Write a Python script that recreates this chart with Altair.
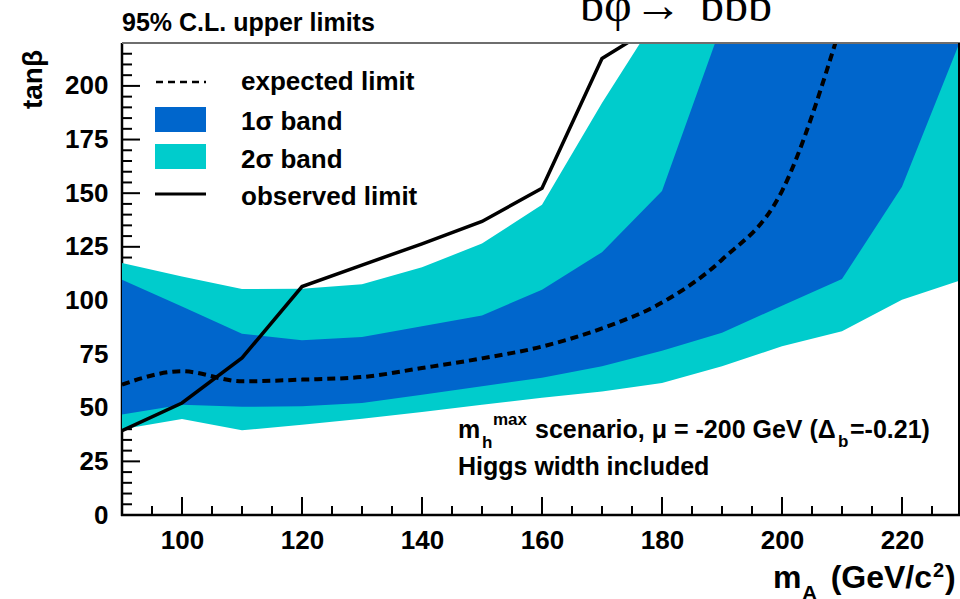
import altair as alt
import pandas as pd

# ---- data: tanβ exclusion limits vs m_A (GeV/c^2) ----
mass = [90, 100, 110, 120, 130, 140, 150, 160, 170, 180, 190, 200, 210, 220, 230]

# 2σ band (lower / upper edge)
band2_lo = [40.0, 44.8, 39.5, 42.1, 44.9, 48.0, 51.4, 54.6, 57.6, 61.5, 69.3, 78.6, 85.6, 100.3, 109.6]
band2_hi = [117.4, 111.2, 105.3, 105.5, 107.5, 115.5, 126.5, 144.6, 192.0, 236.0, 250.0, 250.0, 250.0, 250.0, 250.0]

# 1σ band (lower / upper edge)
band1_lo = [46.8, 51.4, 50.4, 50.7, 52.2, 56.0, 60.0, 64.0, 69.3, 76.5, 85.0, 97.5, 110.0, 153.0, 223.0]
band1_hi = [109.6, 97.2, 84.5, 81.4, 83.0, 88.0, 93.0, 105.0, 122.5, 151.0, 229.0, 250.0, 250.0, 250.0, 250.0]

# expected limit (90 ... 210)
expected = [60.8, 67.0, 62.3, 63.1, 64.3, 68.5, 73.0, 78.5, 87.0, 99.0, 119.0, 151.0, 230.0]

# observed limit (90 ... 180)
observed = [39.3, 52.2, 73.2, 106.5, 116.5, 126.4, 136.8, 152.3, 212.8, 230.0]

x_label_values = [100, 120, 140, 160, 180, 200, 220]
y_label_values = [0, 25, 50, 75, 100, 125, 150, 175, 200]
x_minor_ticks = [v for v in range(95, 230, 5) if v not in x_label_values]
y_minor_ticks = [v for v in range(5, 221, 5) if v not in y_label_values]

# ---- layout ----
W, H = 838, 472
SANS = "Liberation Sans"
SERIF = "Liberation Serif"
BLUE = "#0066cc"
CYAN = "#00cccc"

bands = pd.DataFrame({"mass": mass, "lo2": band2_lo, "hi2": band2_hi,
                      "lo1": band1_lo, "hi1": band1_hi})
exp_df = pd.DataFrame({"mass": mass[:len(expected)], "limit": expected})
obs_df = pd.DataFrame({"mass": mass[:len(observed)], "limit": observed})

x_scale = alt.Scale(domain=[90, 229.67], nice=False, zero=False)
y_scale = alt.Scale(domain=[0, 220], nice=False, zero=False)

axis_common = dict(title=None, ticks=False, tickSize=0, domain=False, grid=False,
                   labelFont=SANS, labelFontSize=26, labelFontWeight="bold",
                   labelColor="black", labelOverlap=False, labelFlush=False)
x_axis = alt.Axis(values=x_label_values, labelPadding=12, **axis_common)
y_axis = alt.Axis(values=y_label_values, labelPadding=14, **axis_common)


def X(field):
    return alt.X(field, type="quantitative", scale=x_scale, axis=x_axis)


def Y(field):
    return alt.Y(field, type="quantitative", scale=y_scale, axis=y_axis)


one = alt.Data(values=[{}])


def text(txt, x, y, size, align="left", font=SANS, weight="bold", angle=None):
    kw = dict(text=txt, font=font, fontSize=size, fontWeight=weight,
              align=align, baseline="alphabetic", color="black")
    if angle is not None:
        kw["angle"] = angle
    return alt.Chart(one).mark_text(**kw).encode(x=alt.value(x), y=alt.value(y))


# ---- axis ticks (inside the frame) ----
x_major = alt.Chart(pd.DataFrame({"v": x_label_values})).mark_rule(
    color="black", strokeWidth=2).encode(x=X("v"), y=alt.value(H), y2=alt.value(H - 18))
x_minor = alt.Chart(pd.DataFrame({"v": x_minor_ticks})).mark_rule(
    color="black", strokeWidth=2).encode(x=X("v"), y=alt.value(H), y2=alt.value(H - 9))
y_major = alt.Chart(pd.DataFrame({"v": y_label_values})).mark_rule(
    color="black", strokeWidth=2).encode(y=Y("v"), x=alt.value(0), x2=alt.value(18))
y_minor = alt.Chart(pd.DataFrame({"v": y_minor_ticks})).mark_rule(
    color="black", strokeWidth=2).encode(y=Y("v"), x=alt.value(0), x2=alt.value(10))

# ---- frame ----
frame_left = alt.Chart(one).mark_rule(color="black", strokeWidth=2.5).encode(
    x=alt.value(0), y=alt.value(0), y2=alt.value(H + 1))
frame_bottom = alt.Chart(one).mark_rule(color="black", strokeWidth=2.5).encode(
    y=alt.value(H), x=alt.value(-1), x2=alt.value(W))
frame_top = alt.Chart(one).mark_rule(color="#6e6e6e", strokeWidth=2).encode(
    y=alt.value(0), x=alt.value(0), x2=alt.value(W))
frame_right = alt.Chart(one).mark_rule(color="black", strokeWidth=2).encode(
    x=alt.value(W - 1), y=alt.value(0), y2=alt.value(H))

# ---- data layers ----
band2 = alt.Chart(bands).mark_area(color=CYAN, clip=True).encode(
    x=X("mass"), y=Y("lo2"), y2="hi2")
band1 = alt.Chart(bands).mark_area(color=BLUE, clip=True).encode(
    x=X("mass"), y=Y("lo1"), y2="hi1")
exp_line = alt.Chart(exp_df).mark_line(
    color="black", strokeWidth=4, strokeDash=[8, 5], interpolate="monotone", clip=True
).encode(x=X("mass"), y=Y("limit"))
obs_line = alt.Chart(obs_df).mark_line(color="black", strokeWidth=3.5, clip=True).encode(
    x=X("mass"), y=Y("limit"))

# ---- legend ----
leg_exp = alt.Chart(one).mark_rule(color="black", strokeWidth=2.5, strokeDash=[7, 5]).encode(
    x=alt.value(34), x2=alt.value(84), y=alt.value(39))
leg_1s = alt.Chart(one).mark_rect(color=BLUE).encode(
    x=alt.value(33), x2=alt.value(84), y=alt.value(64), y2=alt.value(89))
leg_2s = alt.Chart(one).mark_rect(color=CYAN).encode(
    x=alt.value(33), x2=alt.value(84), y=alt.value(101), y2=alt.value(126))
leg_obs = alt.Chart(one).mark_rule(color="black", strokeWidth=3).encode(
    x=alt.value(33), x2=alt.value(84), y=alt.value(151))
legend_text = [
    text("expected limit", 119, 47, 26),
    text("1σ band", 119, 87, 26),
    text("2σ band", 119, 125, 26),
    text("observed limit", 119, 162, 26),
]

# ---- titles and annotations ----
labels = [
    text("95% C.L. upper limits", 0, -12, 25),
    text("bφ", 458, -22, 48, font=SERIF, weight="normal"),
    text("→", 536, -22, 48, align="center", font=SERIF, weight="bold"),
    text("bbb", 578, -22, 48, font=SERIF, weight="normal"),
    text("tanβ", -80, 7, 28, align="right", angle=270),
    text("m", 651, 545, 32),
    text("A", 680, 557, 21),
    text("(GeV/c", 810, 545, 32, align="right"),
    text("2", 811, 534, 20),
    text(")", 823, 545, 32),
    text("m", 336, 395, 25),
    text("h", 360, 405, 17),
    text("max", 371, 382, 17),
    text("scenario, μ = -200 GeV (Δ", 413, 395, 25),
    text("b", 716, 404, 17),
    text("=-0.21)", 728, 395, 25),
    text("Higgs width included", 336, 432, 25),
]

chart = alt.layer(
    x_minor, x_major, y_minor, y_major,
    frame_left, frame_bottom,
    band2, band1, exp_line, obs_line,
    frame_top, frame_right,
    leg_exp, leg_1s, leg_2s, leg_obs,
    *legend_text, *labels,
).properties(
    width=W, height=H,
    autosize=alt.AutoSizeParams(type="none"),
    padding={"left": 122, "top": 43, "right": 0, "bottom": 84},
    background="white",
).configure_view(strokeWidth=0)

chart.save("out.html", embed_options={"renderer": "svg", "actions": False})
